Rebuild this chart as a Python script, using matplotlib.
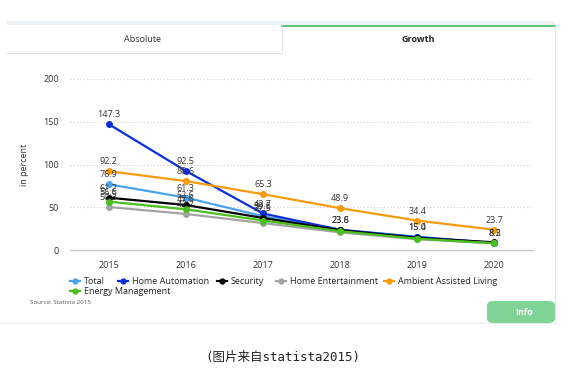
import matplotlib.pyplot as plt
from matplotlib.lines import Line2D
from matplotlib.patches import FancyBboxPatch, Rectangle

# data
years = [2015, 2016, 2017, 2018, 2019, 2020]
total = [76.9, 61.3, 39.5, 23.8, 15.4, 8.3]
home_automation = [147.3, 92.5, 42.7, 23.6, 15.0, 8.2]
security = [61.2, 52.6, 37.5, 23.1, 14.1, 9.0]
home_entertainment = [50.3, 42.2, 31.5, 20.6, 12.6, 7.8]
ambient_living = [92.2, 80.6, 65.3, 48.9, 34.4, 23.7]
energy_mgmt = [56.6, 47.6, 34.5, 22.0, 13.2, 7.8]
yticks = [0, 50, 100, 150, 200]

series = [
    ("Total", total, "#4aa3ea", [1, 1, 1, 1, 1, 1]),
    ("Home Automation", home_automation, "#0a2fd6", [1, 1, 1, 1, 1, 1]),
    ("Security", security, "#000000", [1, 1, 1, 0, 0, 0]),
    ("Home Entertainment", home_entertainment, "#a3a3a3", [1, 1, 0, 0, 0, 0]),
    ("Ambient Assisted Living", ambient_living, "#f79b0c", [1, 1, 1, 1, 1, 1]),
    ("Energy Management", energy_mgmt, "#49bf1c", [1, 1, 0, 0, 0, 0]),
]

plt.rcParams['font.family'] = ['Open Sans', 'DejaVu Sans']

fig = plt.figure(figsize=(5.75, 3.77), dpi=100)
W, H = 575, 377

def fx(x):
    return x / W

def fy(y):
    return 1 - y / H

# tab header
fig.patches.append(Rectangle((fx(7), fy(25)), fx(548), 4 / H, transform=fig.transFigure,
                             color="#eef1f3", lw=0))
fig.add_artist(Line2D([fx(282), fx(555)], [fy(25.5), fy(25.5)], color="#3dbd5e", lw=1.2))
fig.add_artist(Line2D([fx(7), fx(282)], [fy(53), fy(53)], color="#e3e6e8", lw=0.8))
fig.add_artist(Line2D([fx(282), fx(282)], [fy(26), fy(53)], color="#e3e6e8", lw=0.6))
fig.add_artist(Line2D([fx(555), fx(555)], [fy(26), fy(323)], color="#e3e6e8", lw=0.8))
fig.add_artist(Line2D([fx(0), fx(555)], [fy(323), fy(323)], color="#e6eeec", lw=0.8))
fig.text(fx(143), fy(39), "Absolute", ha="center", va="center", fontsize=6.5, color="#333333")
fig.text(fx(418), fy(40), "Growth", ha="center", va="center", fontsize=6.5,
         fontweight="bold", color="#222222")

ax = fig.add_axes([fx(70), fy(250), fx(463), 171 / H])
for name, vals, col, show in series:
    ax.plot(years, vals, color=col, lw=1.6, marker="o", markersize=4, label=name)
    for x, v, s in zip(years, vals, show):
        if s:
            ax.annotate(f"{v:.1f}", (x, v), xytext=(0, 3.5), textcoords="offset points",
                        ha="center", va="bottom", fontsize=6.5, color="#333333")

ax.set_xlim(2014.5, 2020.5)
ax.set_ylim(0, 200)
ax.set_xticks(years)
ax.set_yticks(yticks)
ax.tick_params(length=0, labelsize=6.5, colors="#333333", pad=8)
ax.yaxis.grid(True, linestyle=(0, (1, 2)), color="#cfcfcf", lw=0.8)
ax.set_axisbelow(True)
for s in ["top", "right", "left"]:
    ax.spines[s].set_visible(False)
ax.spines["bottom"].set_color("#c8c8c8")
ax.spines["bottom"].set_linewidth(1.0)
ax.set_ylabel("in percent", fontsize=6.5, color="#333333", labelpad=10)

# legend, laid out like the statista one
leg_pos = [(75, 281), (123, 281), (222, 281), (281, 281), (389, 281), (75, 291)]
for (name, vals, col, show), (lx, ly) in zip(series, leg_pos):
    fig.add_artist(Line2D([fx(lx - 5), fx(lx + 5)], [fy(ly), fy(ly)], color=col, lw=1.6))
    fig.add_artist(Line2D([fx(lx)], [fy(ly)], color=col, marker="o", markersize=3.5))
    fig.text(fx(lx + 9), fy(ly), name, ha="left", va="center", fontsize=6.5, color="#222222")

fig.text(fx(30), fy(303), "Source: Statista 2015", ha="left", va="center", fontsize=4.5,
         color="#555555")

info = FancyBboxPatch((fx(487), fy(323)), fx(68), 22 / H, transform=fig.transFigure,
                      boxstyle="round,pad=0,rounding_size=0.012", color="#7fd396", lw=0)
fig.patches.append(info)
fig.text(fx(524), fy(312.5), "Info", ha="center", va="center", fontsize=6.5,
         fontweight="bold", color="white")

fig.text(fx(283), fy(357), "(图片来自statista2015)", ha="center", va="center", fontsize=9,
         color="#222222", family=["DejaVu Sans Mono", "Noto Sans CJK SC"])

fig.savefig("out.png", dpi=100)
